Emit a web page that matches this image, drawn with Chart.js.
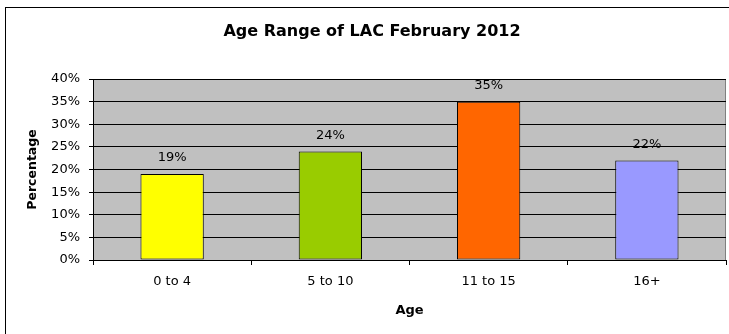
<!DOCTYPE html>
<html>
<head>
<meta charset="utf-8">
<script src="https://cdn.jsdelivr.net/npm/chart.js@4/dist/chart.umd.min.js"></script>
<style>
  html, body { margin: 0; padding: 0; background: #fff; }
  #wrap { position: relative; width: 729px; height: 334px; overflow: hidden; }
  #frame { position: absolute; left: 5px; top: 7px; width: 760px; height: 360px; border: 1.5px solid #000; box-sizing: border-box; }
  canvas { position: absolute; left: 0; top: 0; }
</style>
</head>
<body>
<div id="wrap">
  <div id="frame"></div>
  <canvas id="chart" width="729" height="334"></canvas>
</div>
<script>
// Age bands and the share of looked-after children in each (February 2012)
const ageBands = ['0 to 4', '5 to 10', '11 to 15', '16+'];
const sharePct = [19, 24, 35, 22];
const barColours = ['#FFFF00', '#99CC00', '#FF6600', '#9999FF'];
const yTicks = [0, 5, 10, 15, 20, 25, 30, 35, 40];

const chartTitle = 'Age Range of LAC February 2012';
const FONT = '"DejaVu Sans", Verdana, sans-serif';

// Grey plot background with a thin grey frame on the right edge
const plotBackground = {
  id: 'plotBackground',
  beforeDraw(chart) {
    const { ctx, chartArea: a } = chart;
    ctx.save();
    ctx.fillStyle = '#C0C0C0';
    ctx.fillRect(a.left, a.top, a.right - a.left, a.bottom - a.top);
    ctx.strokeStyle = '#808080';
    ctx.lineWidth = 1;
    ctx.beginPath();
    ctx.moveTo(a.right - 0.5, a.top);
    ctx.lineTo(a.right - 0.5, a.bottom);
    ctx.stroke();
    ctx.restore();
  }
};

// Title text centred over the whole chart
const chartHeading = {
  id: 'chartHeading',
  afterDraw(chart) {
    const { ctx } = chart;
    ctx.save();
    ctx.font = 'bold 16px ' + FONT;
    ctx.fillStyle = '#000';
    ctx.textAlign = 'center';
    ctx.textBaseline = 'middle';
    ctx.fillText(chartTitle, 372, 32);
    ctx.restore();
  }
};

// Percentage value written above each bar
const valueLabels = {
  id: 'valueLabels',
  afterDatasetsDraw(chart) {
    const { ctx } = chart;
    const meta = chart.getDatasetMeta(0);
    ctx.save();
    ctx.font = '13px ' + FONT;
    ctx.fillStyle = '#000';
    ctx.textAlign = 'center';
    ctx.textBaseline = 'middle';
    meta.data.forEach((bar, i) => {
      ctx.fillText(sharePct[i] + '%', bar.x, bar.y - 16);
    });
    ctx.restore();
  }
};

new Chart(document.getElementById('chart'), {
  type: 'bar',
  data: {
    labels: ageBands,
    datasets: [{
      data: sharePct,
      backgroundColor: barColours,
      borderColor: '#000',
      borderWidth: 1,
      borderSkipped: false,
      barPercentage: 0.4,
      categoryPercentage: 1
    }]
  },
  plugins: [plotBackground, chartHeading, valueLabels],
  options: {
    responsive: false,
    animation: false,
    events: [],
    layout: { padding: { top: 79, right: 3, left: 0, bottom: 0 } },
    plugins: {
      legend: { display: false },
      tooltip: { enabled: false },
      title: { display: false }
    },
    scales: {
      x: {
        afterFit(s) { s.height = 74; },
        grid: {
          offset: true,
          drawOnChartArea: false,
          color: '#000',
          tickLength: 5,
          tickColor: '#000'
        },
        border: { color: '#000', width: 1 },
        ticks: {
          color: '#000',
          font: { family: FONT, size: 13 },
          padding: 9,
          maxRotation: 0
        },
        title: {
          display: true,
          text: 'Age',
          color: '#000',
          font: { family: FONT, size: 13, weight: 'bold' },
          padding: { top: 0, bottom: 16 }
        }
      },
      y: {
        min: 0,
        max: 40,
        afterFit(s) { s.width = 93; },
        afterBuildTicks(s) { s.ticks = yTicks.map(v => ({ value: v })); },
        grid: {
          color: '#000',
          lineWidth: 1,
          tickLength: 4,
          tickColor: '#000'
        },
        border: { color: '#000', width: 1 },
        ticks: {
          color: '#000',
          font: { family: FONT, size: 13 },
          padding: 9,
          callback: v => v + '%'
        },
        title: {
          display: true,
          text: 'Percentage',
          color: '#000',
          font: { family: FONT, size: 12.5, weight: 'bold' },
          padding: { top: 25, bottom: 0 }
        }
      }
    }
  }
});
</script>
</body>
</html>
